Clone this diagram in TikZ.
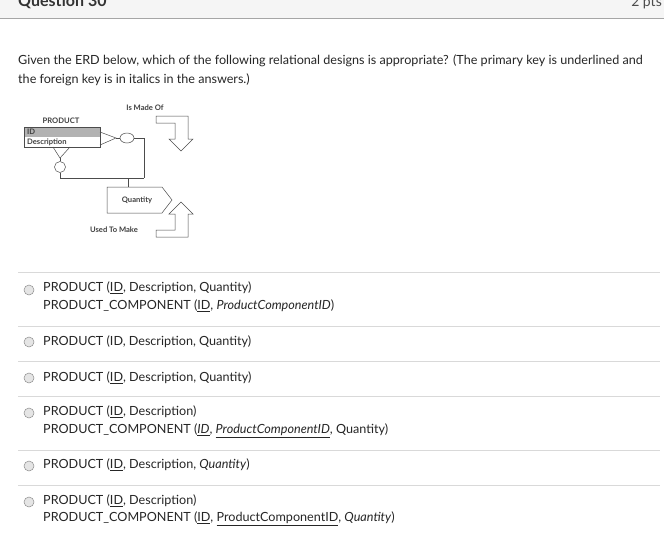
\documentclass[tikz,border=0pt]{standalone}
\usepackage{fontspec}
\setmainfont{Lato}
\usetikzlibrary{shapes.geometric}
\tikzset{
  txt/.style={anchor=west,inner sep=0pt,font=\fontsize{12.6}{14}\selectfont,text=black!85},
  small/.style={inner sep=0pt,font=\fontsize{7.6}{8}\selectfont\bfseries,text=black!75},
  sep/.style={draw=black!15,line width=0.6pt},
  radio/.style={circle,draw=black!45,fill=black!10,minimum size=10pt,inner sep=0pt,line width=0.5pt},
  erd/.style={draw=black!70,line width=0.5pt},
  bigarrow/.style={draw=black!70,fill=white,line width=0.5pt}
}
\begin{document}
\begin{tikzpicture}[x=1pt,y=-1pt]
\useasboundingbox (0,0) rectangle (664,542);
\fill[white] (0,0) rectangle (664,542);
\fill[black!4] (0,0) rectangle (664,18);
\draw[black!35] (0,18) -- (664,18);
\begin{scope}
\clip (0,0) rectangle (664,18);
\node[anchor=base west,inner sep=0pt,font=\fontsize{16}{18}\selectfont\bfseries,text=black!80] (qn) at (18,6) {Question 30};
\node[anchor=base east,inner sep=0pt,font=\fontsize{14}{16}\selectfont,text=black!70] (pts) at (662,6) {2 pts};
\end{scope}
\node[txt] (q1) at (18,61) {Given the ERD below, which of the following relational designs is appropriate? (The primary key is underlined and};
\node[txt] (q2) at (18,80) {the foreign key is in italics in the answers.)};
% ERD
\node[small] (ismade) at (145,108) {Is Made Of};
\node[small] (prodlbl) at (61,121) {PRODUCT};
\fill[black!30] (24,127) rectangle (100,137);
\draw[erd] (24,127) rectangle (100,147);
\node[small,anchor=west] (idlbl) at (27,132) {ID};
\node[small,anchor=west] (desclbl) at (27,142) {Description};
\node[erd,ellipse,minimum width=14pt,minimum height=10pt,inner sep=0pt,draw] (c1) at (127,138) {};
\node[erd,circle,minimum size=11pt,inner sep=0pt,draw] (c2) at (60,167) {};
\draw[erd] (100,132) -- (116,138) -- (100,145);
\draw[erd] (116,138) -- (c1.west);
\draw[erd] (53,147) -- (60,158) -- (70,147);
\draw[erd] (60,158) -- (c2.north);
\coordinate (j1) at (144,178);
\draw[erd] (c1.east) -- (144,138) -- (j1);
\draw[erd] (c2.south) -- (60,178) -- (j1);
\draw[erd] (107,187) -- (162,187) -- (172,200) -- (162,213) -- (107,213) -- cycle;
\coordinate (qtop) at (128,187);
\draw[erd] (128,178) -- (qtop);
\node[small] (qtylbl) at (137,200) {Quantity};
\node[small] (used) at (114,230) {Used To Make};
\draw[bigarrow] (156,116) -- (188,116) -- (188,139) -- (193,139) -- (181,151) -- (169,139) -- (175,139) -- (175,123) -- (156,123) -- cycle;
\draw[bigarrow] (156,237) -- (188,237) -- (188,214) -- (193,214) -- (181,202) -- (169,214) -- (175,214) -- (175,230) -- (156,230) -- cycle;
% answers
\foreach \y in {272,326,361,396,450,485} \draw[sep] (18,\y) -- (660,\y);
\foreach \y/\n in {290/r1,342/r2,378/r3,413/r4,466/r5,502/r6} \node[radio] (\n) at (29,\y) {};
\node[txt] (a1a) at (43,288) {PRODUCT (\underline{ID}, Description, Quantity)};
\node[txt] (a1b) at (43,306) {PRODUCT\_COMPONENT (\underline{ID}, \textit{ProductComponentID})};
\node[txt] (a2) at (43,342) {PRODUCT (ID, Description, Quantity)};
\node[txt] (a3) at (43,378) {PRODUCT (\underline{ID}, Description, Quantity)};
\node[txt] (a4a) at (43,412) {PRODUCT (\underline{ID}, Description)};
\node[txt] (a4b) at (43,431) {PRODUCT\_COMPONENT (\underline{\textit{ID}}, \underline{\textit{ProductComponentID}}, Quantity)};
\node[txt] (a5) at (43,465) {PRODUCT (\underline{ID}, Description, \textit{Quantity})};
\node[txt] (a6a) at (43,501) {PRODUCT (\underline{ID}, Description)};
\node[txt] (a6b) at (43,519) {PRODUCT\_COMPONENT (\underline{ID}, \underline{ProductComponentID}, \textit{Quantity})};
\end{tikzpicture}
\end{document}
